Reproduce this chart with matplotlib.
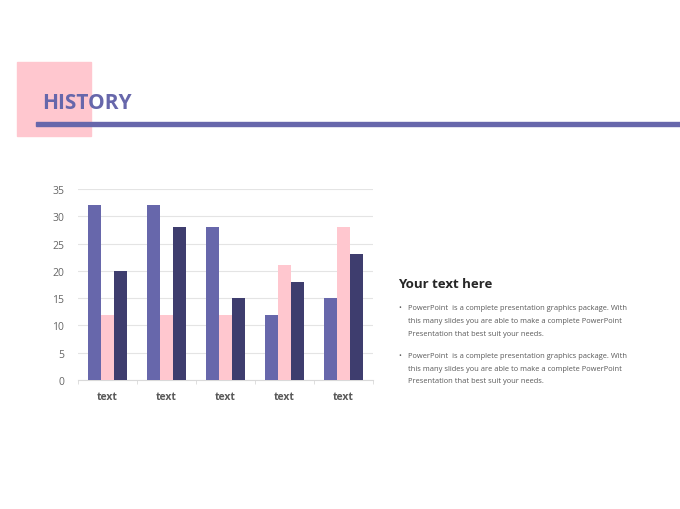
import matplotlib.pyplot as plt
import matplotlib.patches as patches
import numpy as np

# Dữ liệu
categories = ['text', 'text', 'text', 'text', 'text']
series_1 = [32, 32, 28, 12, 15]
series_2 = [12, 12, 12, 21, 28]
series_3 = [20, 28, 15, 18, 23]
y_ticks = [0, 5, 10, 15, 20, 25, 30, 35]

purple = '#6767AB'
pink = '#FFC7CF'
dark = '#3E3D6E'
gray = '#595959'

plt.rcParams['font.family'] = ['Open Sans', 'DejaVu Sans']

fig = plt.figure(figsize=(6.8, 5.1), dpi=100)
W, H = 680, 510

# Tiêu đề và trang trí
fig.patches.append(patches.Rectangle((17 / W, 1 - 137 / H), 74 / W, 74 / H,
                                     transform=fig.transFigure, color=pink, zorder=0))
fig.patches.append(patches.Rectangle((36 / W, 1 - 127 / H), 644 / W, 4 / H,
                                     transform=fig.transFigure, color=purple, zorder=1))
fig.text(42 / W, 1 - 104 / H, 'HISTORY', fontsize=15, fontweight='bold',
         color=purple, va='center', ha='left')

# Biểu đồ cột
ax = fig.add_axes([78 / W, 1 - 381 / H, 295 / W, 191 / H])
x = np.arange(len(categories))
w = 0.22
ax.bar(x - w, series_1, w, color=purple, zorder=3)
ax.bar(x, series_2, w, color=pink, zorder=3)
ax.bar(x + w, series_3, w, color=dark, zorder=3)

ax.set_xlim(-0.5, len(categories) - 0.5)
ax.set_ylim(0, 35)
ax.set_yticks(y_ticks)
ax.set_xticks(x)
ax.set_xticklabels(categories, fontweight='bold')
ax.set_xticks(np.arange(-0.5, len(categories)), minor=True)
ax.grid(axis='y', color='#E4E4E4', linewidth=0.8, zorder=0)
for s in ['top', 'right', 'left']:
    ax.spines[s].set_visible(False)
ax.spines['bottom'].set_color('#D9D9D9')
ax.tick_params(axis='y', length=0, labelsize=7.5, labelcolor='#666666', pad=10)
ax.tick_params(axis='x', which='major', length=0, labelsize=7.5, labelcolor=gray, pad=8)
ax.tick_params(axis='x', which='minor', length=3, color='#D9D9D9')

# Khối văn bản bên phải
fig.text(398 / W, 1 - 285 / H, 'Your text here', fontsize=9.5, fontweight='bold',
         color='#262626', va='center', ha='left')
lines = ['PowerPoint  is a complete presentation graphics package. With',
         'this many slides you are able to make a complete PowerPoint',
         'Presentation that best suit your needs.']
for y0 in [309, 357]:
    fig.text(398 / W, 1 - y0 / H, '•', fontsize=5.5, color=gray, va='center')
    for i, t in enumerate(lines):
        fig.text(408 / W, 1 - (y0 + i * 12.5) / H, t, fontsize=5.4,
                 color=gray, va='center', ha='left')

plt.savefig('out.png', dpi=100)
